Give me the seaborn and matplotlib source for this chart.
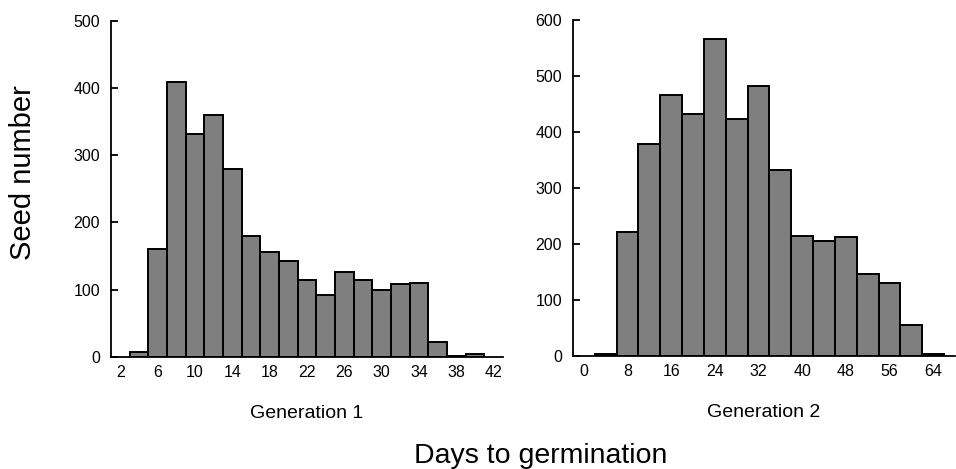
import numpy as np
import pandas as pd
import matplotlib
matplotlib.use("Agg")
import matplotlib.pyplot as plt
import seaborn as sns

# ---- data ----
gen1_days = [4, 6, 8, 10, 12, 14, 16, 18, 20, 22, 24, 26, 28, 30, 32, 34, 36, 38, 40]
gen1_counts = [8, 161, 409, 331, 360, 279, 180, 156, 143, 115, 92, 127, 115, 100, 108, 110, 22, 2, 4]
gen2_days = [4, 8, 12, 16, 20, 24, 28, 32, 36, 40, 44, 48, 52, 56, 60, 64]
gen2_counts = [3, 222, 380, 467, 433, 567, 423, 482, 332, 215, 205, 212, 146, 130, 56, 3]
gen1_xticks = [2, 6, 10, 14, 18, 22, 26, 30, 34, 38, 42]
gen2_xticks = [0, 8, 16, 24, 32, 40, 48, 56, 64]
gen1_yticks = [0, 100, 200, 300, 400, 500]
gen2_yticks = [0, 100, 200, 300, 400, 500, 600]
panel_titles = ["Generation 1", "Generation 2"]
y_title = "Seed number"
x_title = "Days to germination"

sns.set_style("white")
plt.rcParams["font.family"] = ["Liberation Sans", "DejaVu Sans"]

W, H = 956, 469
fig = plt.figure(figsize=(W / 100, H / 100), dpi=100)

def px_axes(x0, x1, ytop, ybot):
    return fig.add_axes([x0 / W, 1 - ybot / H, (x1 - x0) / W, (ybot - ytop) / H])

ax1 = px_axes(111, 503, 20.5, 357)
ax2 = px_axes(573, 955, 20.5, 356)

df1 = pd.DataFrame({"days": gen1_days, "count": gen1_counts})
df2 = pd.DataFrame({"days": gen2_days, "count": gen2_counts})

sns.histplot(data=df1, x="days", weights="count", binwidth=2, binrange=(3, 41),
             color="#7f7f7f", edgecolor="black", linewidth=1.4, alpha=1, ax=ax1)
sns.histplot(data=df2, x="days", weights="count", binwidth=4, binrange=(2, 66),
             color="#7f7f7f", edgecolor="black", linewidth=1.4, alpha=1, ax=ax2)

settings = [
    (ax1, (1, 43), (0, 500), gen1_xticks, gen1_yticks, panel_titles[0]),
    (ax2, (-2, 68), (0, 600), gen2_xticks, gen2_yticks, panel_titles[1]),
]
for ax, xl, yl, xt, yt, title in settings:
    ax.set_xlim(*xl)
    ax.set_ylim(*yl)
    ax.set_xticks(xt)
    ax.set_xticklabels([str(v) for v in xt])
    ax.set_yticks(yt)
    ax.set_yticklabels([str(v) for v in yt])
    for s in ["top", "right"]:
        ax.spines[s].set_visible(False)
    for s in ["left", "bottom"]:
        ax.spines[s].set_linewidth(1.3)
        ax.spines[s].set_color("black")
    ax.tick_params(axis="y", direction="in", length=5, width=1.3, pad=8,
                   labelsize=11.5, colors="black", left=True)
    ax.tick_params(axis="x", length=0, pad=6, labelsize=11.5, colors="black")
    ax.set_ylabel("")
    ax.set_xlabel(title, fontsize=14, labelpad=18, color="black")

fig.text(23 / W, 1 - 173 / H, y_title, rotation=90, ha="center", va="center",
         fontsize=21, color="black")
fig.text(541 / W, 1 - 463 / H, x_title, ha="center", va="baseline",
         fontsize=20.5, color="black")

fig.savefig("out.png", dpi=100, facecolor="white")
